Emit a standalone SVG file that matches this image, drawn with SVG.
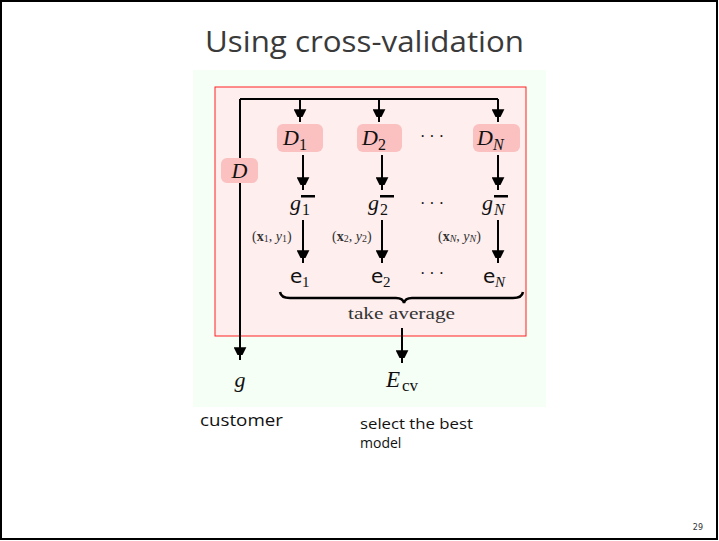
<svg xmlns="http://www.w3.org/2000/svg" width="719" height="541" viewBox="0 0 719 541">
<style>
.m{font-family:"Liberation Serif","DejaVu Serif",serif;fill:#111}
.mi{font-family:"Liberation Serif","DejaVu Serif",serif;font-style:italic;fill:#111}
.ss{font-family:"DejaVu Sans","Liberation Sans",sans-serif;fill:#111}
.hand{font-family:"Open Sans","Liberation Sans",sans-serif;fill:#111}
.ln{stroke:#000;stroke-width:2;fill:none}
.dbox{fill:#fbc0c0}
</style>
<defs>
<marker id="ah2" viewBox="0 0 10 16" refX="16" refY="8" markerWidth="8" markerHeight="13" markerUnits="userSpaceOnUse" orient="auto">
<path d="M0,0 L16,8 L0,16 z" fill="#000"/>
</marker>
</defs>
<rect x="1" y="1" width="716" height="538" fill="#fff" stroke="#000" stroke-width="2"/>
<text x="205" y="52" font-size="29" class="hand" style="fill:#3a3a3a" textLength="319" lengthAdjust="spacingAndGlyphs">Using cross-validation</text>
<rect x="193" y="70" width="353" height="337" fill="#f6fff6"/>
<rect x="215" y="87" width="311" height="249" fill="#feeeee" stroke="#ff2020" stroke-width="1"/>

<g id="connectors">
<path class="ln" d="M240,99 H498"/>
<path class="ln" d="M240,99 V360" marker-end="url(#ah2)"/>
<path class="ln" d="M300,99 V122" marker-end="url(#ah2)"/>
<path class="ln" d="M379,99 V122" marker-end="url(#ah2)"/>
<path class="ln" d="M498,99 V122" marker-end="url(#ah2)"/>
<path class="ln" d="M303,155 V190" marker-end="url(#ah2)"/>
<path class="ln" d="M382,155 V190" marker-end="url(#ah2)"/>
<path class="ln" d="M498,155 V190" marker-end="url(#ah2)"/>
<path class="ln" d="M303,220 V263" marker-end="url(#ah2)"/>
<path class="ln" d="M382,220 V263" marker-end="url(#ah2)"/>
<path class="ln" d="M498,220 V263" marker-end="url(#ah2)"/>
<path class="ln" d="M402,328 V363" marker-end="url(#ah2)"/>
<path d="M280,292 Q281,298 290,298 H396 Q403,298 404,303 Q405,298 412,298 H513 Q522,298 523,292" stroke="#000" stroke-width="2.5" fill="none"/>
</g>

<g id="nD"><rect class="dbox" x="221" y="158" width="37" height="25" rx="6"/><text x="239.5" y="178" text-anchor="middle" font-size="22" class="mi">D</text></g>
<g id="nD1"><rect class="dbox" x="277" y="124" width="46" height="28" rx="6"/><text x="283" y="145" font-size="22" class="mi">D</text><text x="299" y="150" font-size="16" class="m">1</text></g>
<g id="nD2"><rect class="dbox" x="357" y="124" width="45" height="28" rx="6"/><text x="362" y="145" font-size="22" class="mi">D</text><text x="378" y="150" font-size="16" class="m">2</text></g>
<g id="nDN"><rect class="dbox" x="473" y="124" width="47" height="28" rx="6"/><text x="477" y="145" font-size="22" class="mi">D</text><text x="493" y="150" font-size="16" class="mi">N</text></g>
<text x="432" y="142" text-anchor="middle" font-size="16" class="m">· · ·</text>

<g id="ng1"><text x="290" y="210" font-size="22" class="mi">g</text><text x="302" y="215" font-size="16" class="m">1</text><rect x="301" y="195" width="14" height="2.5" fill="#000"/></g>
<g id="ng2"><text x="368" y="210" font-size="22" class="mi">g</text><text x="380" y="215" font-size="16" class="m">2</text><rect x="380" y="195" width="14" height="2.5" fill="#000"/></g>
<g id="ngN"><text x="482" y="210" font-size="22" class="mi">g</text><text x="494" y="215" font-size="16" class="mi">N</text><rect x="494" y="195" width="14" height="2.5" fill="#000"/></g>
<text x="432" y="209" text-anchor="middle" font-size="16" class="m">· · ·</text>

<text x="252" y="241" font-size="14" class="m" style="fill:#333">(<tspan font-weight="bold">x</tspan><tspan font-size="10" dy="1">1</tspan><tspan dy="-1">, </tspan><tspan font-style="italic">y</tspan><tspan font-size="10" dy="1">1</tspan><tspan dy="-1">)</tspan></text>
<text x="332" y="241" font-size="14" class="m" style="fill:#333">(<tspan font-weight="bold">x</tspan><tspan font-size="10" dy="1">2</tspan><tspan dy="-1">, </tspan><tspan font-style="italic">y</tspan><tspan font-size="10" dy="1">2</tspan><tspan dy="-1">)</tspan></text>
<text x="438" y="241" font-size="14" class="m" style="fill:#333">(<tspan font-weight="bold">x</tspan><tspan font-size="10" font-style="italic" dy="1">N</tspan><tspan dy="-1">, </tspan><tspan font-style="italic">y</tspan><tspan font-size="10" font-style="italic" dy="1">N</tspan><tspan dy="-1">)</tspan></text>

<g id="ne1"><text x="290" y="283" font-size="20" class="ss">e</text><text x="302" y="287" font-size="15" class="m">1</text></g>
<g id="ne2"><text x="371" y="283" font-size="20" class="ss">e</text><text x="383" y="287" font-size="15" class="m">2</text></g>
<g id="neN"><text x="483" y="283" font-size="20" class="ss">e</text><text x="495" y="287" font-size="15" class="mi">N</text></g>
<text x="432" y="279" text-anchor="middle" font-size="16" class="m">· · ·</text>

<text x="348" y="319" font-size="17" class="m" style="fill:#333" textLength="107" lengthAdjust="spacingAndGlyphs">take average</text>

<g id="ng"><text x="240" y="387" text-anchor="middle" font-size="22" class="mi">g</text></g>
<g id="nEcv"><text x="386" y="387" font-size="23" class="mi">E</text><text x="402" y="391" font-size="17" class="m">cv</text></g>

<text x="200" y="426" font-size="17" class="hand" textLength="83" lengthAdjust="spacingAndGlyphs">customer</text>
<text x="360" y="429" font-size="14" class="hand" textLength="113" lengthAdjust="spacingAndGlyphs">select the best</text>
<text x="360" y="448" font-size="14" class="hand" style="font-size:14px">model</text>
<text x="703" y="530" text-anchor="end" font-size="8" class="ss" style="fill:#333">29</text>
</svg>
